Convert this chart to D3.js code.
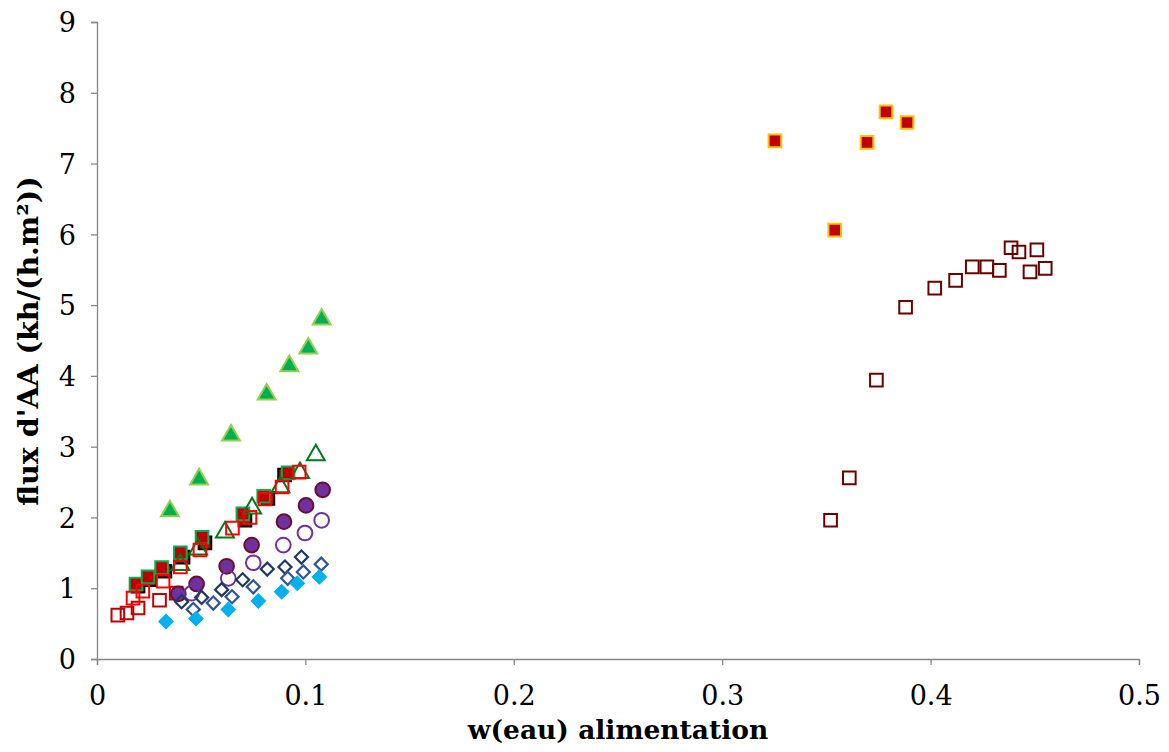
<!DOCTYPE html>
<html><head><meta charset="utf-8">
<script src="https://cdn.jsdelivr.net/npm/d3@7"></script>
<style>body{margin:0;background:#fff;}svg{display:block;}</style>
</head><body>
<div id="chart"></div>
<script>
const xTicks = [0, 0.1, 0.2, 0.3, 0.4, 0.5];
const yTicks = [0, 1, 2, 3, 4, 5, 6, 7, 8, 9];

const greenTriFilled = [[0.035,2.09],[0.049,2.54],[0.0643,3.16],[0.0814,3.74],[0.0923,4.14],[0.1014,4.39],[0.1078,4.80]];
const greenTriOpen = [[0.040,1.33],[0.0485,1.55],[0.0614,1.79],[0.0744,2.13],[0.088,2.43],[0.0974,2.63],[0.105,2.88]];
const purpleFilled = [[0.039,0.92],[0.0478,1.06],[0.0622,1.31],[0.0742,1.61],[0.0897,1.94],[0.1003,2.17],[0.1083,2.39]];
const purpleOpen = [[0.0454,0.93],[0.063,1.14],[0.075,1.36],[0.0894,1.61],[0.0998,1.78],[0.1078,1.96]];
const navyDiamonds = [[0.0406,0.81],[0.0502,0.87],[0.0598,0.98],[0.0699,1.12],[0.0817,1.27],[0.0902,1.30],[0.0981,1.44]];
const blueDiamondsOpen = [[0.0462,0.70],[0.0558,0.79],[0.0648,0.88],[0.075,1.02],[0.0915,1.14],[0.099,1.23],[0.1076,1.34]];
const cyanDiamonds = [[0.0331,0.53],[0.0475,0.57],[0.063,0.70],[0.0774,0.82],[0.0886,0.95],[0.0961,1.07],[0.1067,1.16]];
const redSqBlack = [[0.0197,1.03],[0.0254,1.12],[0.0326,1.24],[0.0413,1.44],[0.0518,1.64],[0.071,1.96],[0.082,2.27],[0.090,2.60]];
const redSqGreen = [[0.0187,1.06],[0.0245,1.16],[0.031,1.29],[0.040,1.50],[0.0504,1.72],[0.070,2.05],[0.080,2.30],[0.0917,2.63]];
const redSqOpen = [[0.0173,0.86],[0.022,0.96],[0.0317,1.10],[0.040,1.30],[0.0494,1.54],[0.065,1.85],[0.0734,2.00],[0.0806,2.26],[0.0888,2.43],[0.097,2.64]];
const darkRedSqOpen = [[0.010,0.62],[0.0144,0.65],[0.0197,0.72],[0.030,0.83],[0.038,0.93]];
const maroonSqOpen = [[0.352,1.96],[0.361,2.56],[0.374,3.94],[0.388,4.97],[0.402,5.24],[0.412,5.35],[0.420,5.54],[0.427,5.54],[0.433,5.49],[0.4386,5.81],[0.4424,5.75],[0.4477,5.47],[0.451,5.78],[0.455,5.52]];
const goldRedSq = [[0.3253,7.32],[0.354,6.06],[0.3695,7.30],[0.3786,7.73],[0.3887,7.58]];

const W = 1169, H = 752;
const m = {left: 97, right: 30, top: 22, bottom: 93};
const svg = d3.select("#chart").append("svg").attr("width", W).attr("height", H);
const x = d3.scaleLinear().domain([0, 0.5]).range([m.left, 1139]);
const y = d3.scaleLinear().domain([0, 9]).range([659, m.top]);

const font = "'DejaVu Serif', serif";
const axisColor = "#868686";

const xAxis = svg.append("g").attr("transform", "translate(0,659)")
  .call(d3.axisBottom(x).tickValues(xTicks).tickFormat(d3.format("")).tickSizeOuter(0).tickSize(6));
const yAxis = svg.append("g").attr("transform", `translate(${m.left},0)`)
  .call(d3.axisLeft(y).tickValues(yTicks).tickFormat(d3.format("d")).tickSizeOuter(0).tickSize(6));
[xAxis, yAxis].forEach(g => {
  g.selectAll("path.domain").attr("stroke", axisColor).attr("stroke-width", 1.3);
  g.selectAll(".tick line").attr("stroke", axisColor).attr("stroke-width", 1.3);
  g.selectAll(".tick text").attr("fill", "#000").style("font-family", font).style("font-size", "27px");
});
xAxis.selectAll(".tick text").attr("y", 46).attr("dy", "0");
yAxis.selectAll(".tick text").attr("x", -21).attr("dy", "0.36em");

svg.append("text").attr("x", 618).attr("y", 739).attr("text-anchor", "middle")
  .style("font-family", font).style("font-weight", "bold").style("font-size", "26.5px")
  .text("w(eau) alimentation");
svg.append("text").attr("transform", "translate(38,341) rotate(-90)").attr("text-anchor", "middle")
  .style("font-family", font).style("font-weight", "bold").style("font-size", "28.5px")
  .text("flux d'AA (kh/(h.m²))");

const plot = svg.append("g");
const sym = {
  square: d3.symbol().type(d3.symbolSquare),
  triangle: d3.symbol().type(d3.symbolTriangle),
  circle: d3.symbol().type(d3.symbolCircle)
};
function draw(data, type, size, fill, stroke, sw) {
  const rot = type === "diamond" ? " rotate(45)" : "";
  const gen = type === "diamond" ? sym.square : sym[type];
  plot.append("g").selectAll("path").data(data).join("path")
    .attr("transform", d => `translate(${x(d[0])},${y(d[1])})${rot}`)
    .attr("d", gen.size(size)())
    .attr("fill", fill).attr("stroke", stroke).attr("stroke-width", sw);
}
draw(darkRedSqOpen, "square", 160, "none", "#C00000", 2);
draw(redSqBlack, "square", 160, "#C00000", "#000000", 2);
draw(redSqGreen, "square", 160, "#C00000", "#00B050", 2);
draw(greenTriOpen, "triangle", 140, "none", "#007A1A", 2);
draw(redSqOpen, "square", 160, "none", "#FF0000", 2);
draw(greenTriFilled, "triangle", 140, "#00B050", "#92D050", 2);
draw(purpleFilled, "circle", 170, "#7030A0", "#6B0F2E", 2);
draw(purpleOpen, "circle", 170, "none", "#7030A0", 2);
draw(navyDiamonds, "diamond", 85, "none", "#1F3864", 2.2);
draw(blueDiamondsOpen, "diamond", 85, "none", "#2F5597", 2.2);
draw(cyanDiamonds, "diamond", 105, "#00B0F0", "#00B0F0", 1);
draw(maroonSqOpen, "square", 160, "none", "#6B0000", 2);
draw(goldRedSq, "square", 160, "#C00000", "#FFC000", 2);
</script>
</body></html>
